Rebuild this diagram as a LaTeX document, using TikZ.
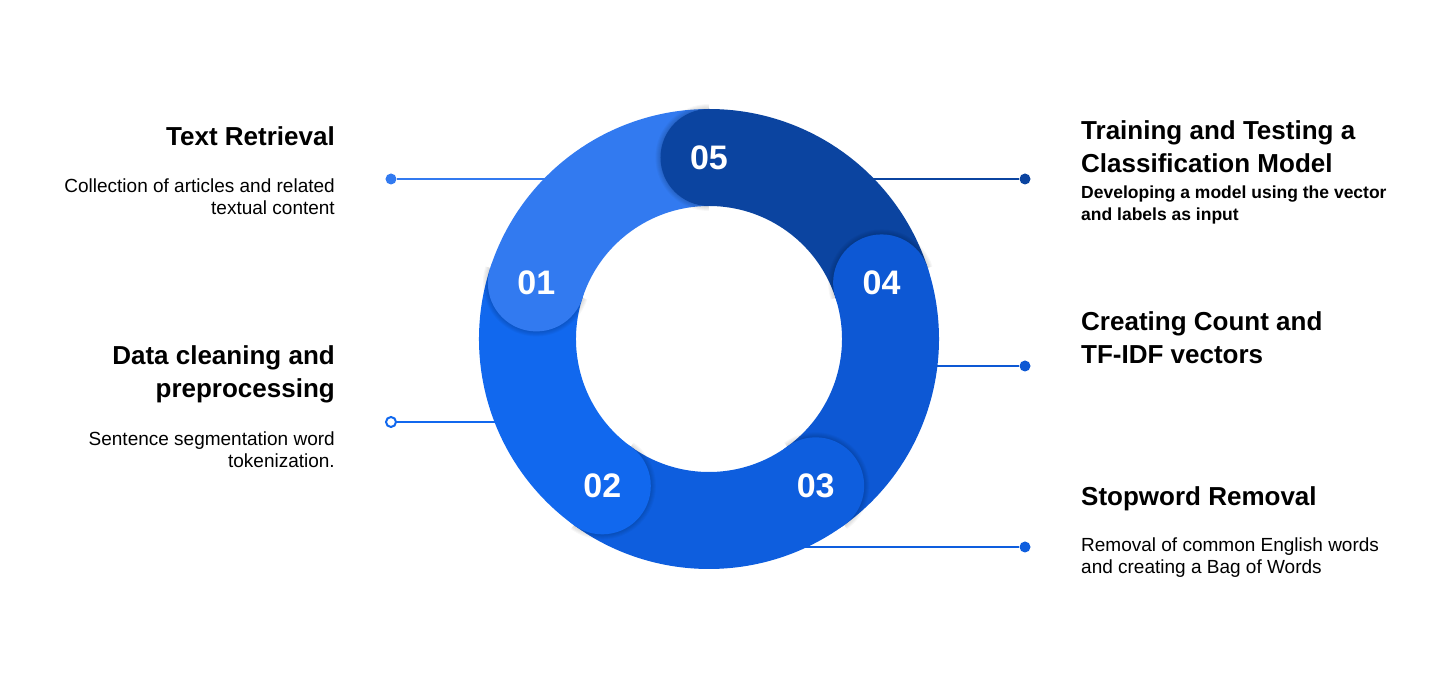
\documentclass[tikz,border=0pt]{standalone}
\usepackage{fontspec}
\setmainfont{Liberation Sans}
\usepackage{tikz}
\usetikzlibrary{positioning}
\usepackage{xcolor}
\definecolor{stepA}{RGB}{50,122,240}
\definecolor{stepB}{RGB}{17,104,238}
\definecolor{stepC}{RGB}{14,94,222}
\definecolor{stepD}{RGB}{13,88,212}
\definecolor{stepE}{RGB}{11,68,160}

\begin{document}
\begin{tikzpicture}[
    x=1pt, y=1pt,
    ring/.style={line width=97pt},
    badge/.style={circle, minimum size=97pt, inner sep=0pt, text=white, font=\fontsize{34}{34}\selectfont\bfseries},
    title/.style={inner sep=0pt, font=\fontsize{26}{33}\selectfont\bfseries},
    desc/.style={inner sep=0pt, font=\fontsize{19}{22}\selectfont},
    dot/.style={circle, fill, inner sep=0pt, minimum size=11pt},
    hollow/.style={circle, draw, line width=2pt, inner sep=0pt, minimum size=10pt},
    link/.style={line width=1.6pt}
]
    \useasboundingbox (-709,-337) rectangle (739,339);

    % leader lines (the ring is drawn over their inner ends)
    \node[dot, stepA] (d01) at (-318,160) {};
    \node[hollow, stepB, fill=white] (d02) at (-318,-83) {};
    \node[dot, stepC] (d03) at (316,-208) {};
    \node[dot, stepD] (d04) at (316,-27) {};
    \node[dot, stepE] (d05) at (316,160) {};
    \coordinate (r01) at (-150,160);
    \coordinate (r02) at (-200,-83);
    \coordinate (r03) at (90,-208);
    \coordinate (r04) at (200,-27);
    \coordinate (r05) at (150,160);
    \draw[link, stepA] (d01) -- (r01);
    \draw[link, stepB] (d02) -- (r02);
    \draw[link, stepC] (d03) -- (r03);
    \draw[link, stepD] (d04) -- (r04);
    \draw[link, stepE] (d05) -- (r05);

    % ring segments, clockwise from each badge
    \foreach \a/\c in {162/stepA, 234/stepB, 306/stepC, 18/stepD, 90/stepE}
        \draw[ring, \c] (\a:181.5) arc[start angle=\a, end angle=\a-72, radius=181.5];

    % badges with a soft shadow over the previous segment
    \foreach \a/\c/\n in {162/stepA/01, 234/stepB/02, 306/stepC/03, 18/stepD/04, 90/stepE/05} {
        \begin{scope}
            \clip (0,0) -- (\a:300) arc[start angle=\a, end angle=\a+60, radius=300] -- cycle;
            \foreach \k in {1,...,5}
                \fill[black, opacity=0.03] (\a:181.5) circle[radius=48.5+\k];
        \end{scope}
        \node[badge, fill=\c] (b\n) at (\a:181.5) {\n};
    }

    % left column (multi-line nodes sit on their last baseline)
    \node[title, anchor=base east] (t01) at (-374,193) {Text Retrieval};
    \node[desc, anchor=base east, align=right] (s01) at (-374,124) {Collection of articles and related\\textual content};
    \node[title, anchor=base east, align=right] (t02) at (-374,-59) {Data cleaning and\\preprocessing};
    \node[desc, anchor=base east, align=right] (s02) at (-374,-129) {Sentence segmentation word\\tokenization.};

    % right column
    \node[title, anchor=base west, align=left] (t05) at (372,166) {Training and Testing a\\Classification Model};
    \node[desc, font=\fontsize{17.5}{22}\selectfont\bfseries, anchor=base west, align=left] (s05) at (372,118) {Developing a model using the vector\\and labels as input};
    \node[title, anchor=base west, align=left] (t04) at (372,-25) {Creating Count and\\TF-IDF vectors};
    \node[title, anchor=base west] (t03) at (372,-167) {Stopword Removal};
    \node[desc, anchor=base west, align=left] (s03) at (372,-235) {Removal of common English words\\and creating a Bag of Words};
\end{tikzpicture}
\end{document}
